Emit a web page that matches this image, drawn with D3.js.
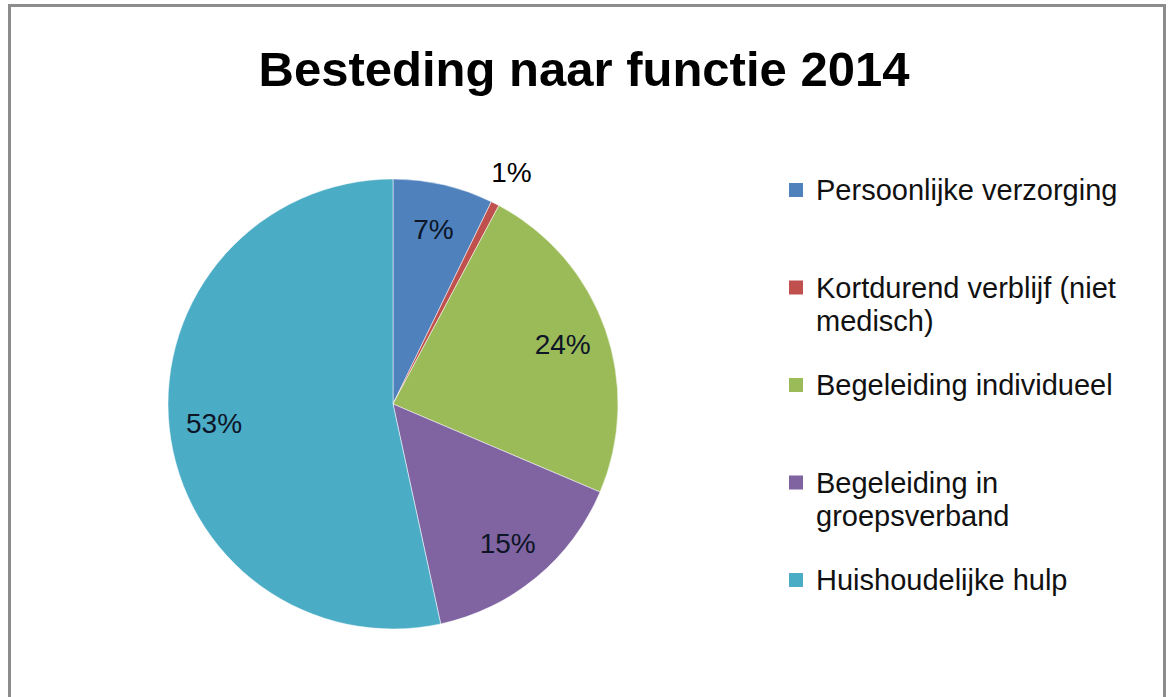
<!DOCTYPE html>
<html>
<head>
<meta charset="utf-8">
<script src="https://cdn.jsdelivr.net/npm/d3@7"></script>
<style>
  html, body { margin: 0; padding: 0; background: #fff; }
  svg { display: block; }
</style>
</head>
<body>
<svg id="chart" width="1168" height="697"></svg>
<script>
// ---- data ----
const title = "Besteding naar functie 2014";
const categories = [
  "Persoonlijke verzorging",
  "Kortdurend verblijf (niet medisch)",
  "Begeleiding individueel",
  "Begeleiding in groepsverband",
  "Huishoudelijke hulp"
];
const legendLines = [
  ["Persoonlijke verzorging"],
  ["Kortdurend verblijf (niet", "medisch)"],
  ["Begeleiding individueel"],
  ["Begeleiding in", "groepsverband"],
  ["Huishoudelijke hulp"]
];
const values = [7.2, 0.6, 23.6, 15.2, 53.4];
const percentLabels = ["7%", "1%", "24%", "15%", "53%"];
const colors = ["#4F81BD", "#C0504D", "#9BBB59", "#8064A2", "#4BACC6"];

// ---- layout ----
const svg = d3.select("#chart");
const W = 1168, H = 697;
const cx = 393, cy = 404, R = 225;

svg.append("rect")
  .attr("x", 9.5).attr("y", 5.5)
  .attr("width", 1155).attr("height", 705)
  .attr("fill", "#fff").attr("stroke", "#8c8c8c").attr("stroke-width", 3);

svg.append("text")
  .attr("x", 584).attr("y", 86)
  .attr("text-anchor", "middle")
  .attr("font-family", "Liberation Sans, Arial, sans-serif")
  .attr("font-weight", "bold")
  .attr("font-size", 49)
  .attr("fill", "#000")
  .text(title);

const pie = d3.pie().sort(null).value(d => d)
  .startAngle(0).endAngle(2 * Math.PI);
const arcs = pie(values);
const arc = d3.arc().innerRadius(0).outerRadius(R);
const labelArcIn = d3.arc().innerRadius(R * 0.8).outerRadius(R * 0.8);
const labelArcOut = d3.arc().innerRadius(R * 1.16).outerRadius(R * 1.16);

const g = svg.append("g").attr("transform", `translate(${cx},${cy})`);

g.selectAll("path.slice")
  .data(arcs)
  .join("path")
  .attr("class", "slice")
  .attr("d", arc)
  .attr("fill", (d, i) => colors[i])
  .attr("stroke", "#ffffff")
  .attr("stroke-opacity", 0.5)
  .attr("stroke-width", 1);

g.selectAll("text.lbl")
  .data(arcs)
  .join("text")
  .attr("class", "lbl")
  .attr("transform", d => {
    const p = (d.data < 3 ? labelArcOut : labelArcIn).centroid(d);
    return `translate(${p[0]},${p[1]})`;
  })
  .attr("text-anchor", "middle")
  .attr("dy", "0.36em")
  .attr("font-family", "Liberation Sans, Arial, sans-serif")
  .attr("font-size", 28)
  .attr("fill", (d) => d.data < 3 ? "#000" : "#0d1526")
  .text((d, i) => percentLabels[i]);

// legend
const ly = d3.scalePoint().domain(categories).range([190, 580]);
const lg = svg.append("g");
const items = lg.selectAll("g.item")
  .data(categories)
  .join("g")
  .attr("class", "item")
  .attr("transform", d => `translate(789,${ly(d)})`);

items.append("rect")
  .attr("x", 0).attr("y", -7)
  .attr("width", 14).attr("height", 14)
  .attr("fill", (d, i) => colors[i]);

items.append("text")
  .attr("font-family", "Liberation Sans, Arial, sans-serif")
  .attr("font-size", 29)
  .attr("fill", "#111")
  .selectAll("tspan")
  .data((d, i) => legendLines[i])
  .join("tspan")
  .attr("x", 27)
  .attr("y", (d, j) => 10 + j * 33)
  .text(d => d);
</script>
</body>
</html>
